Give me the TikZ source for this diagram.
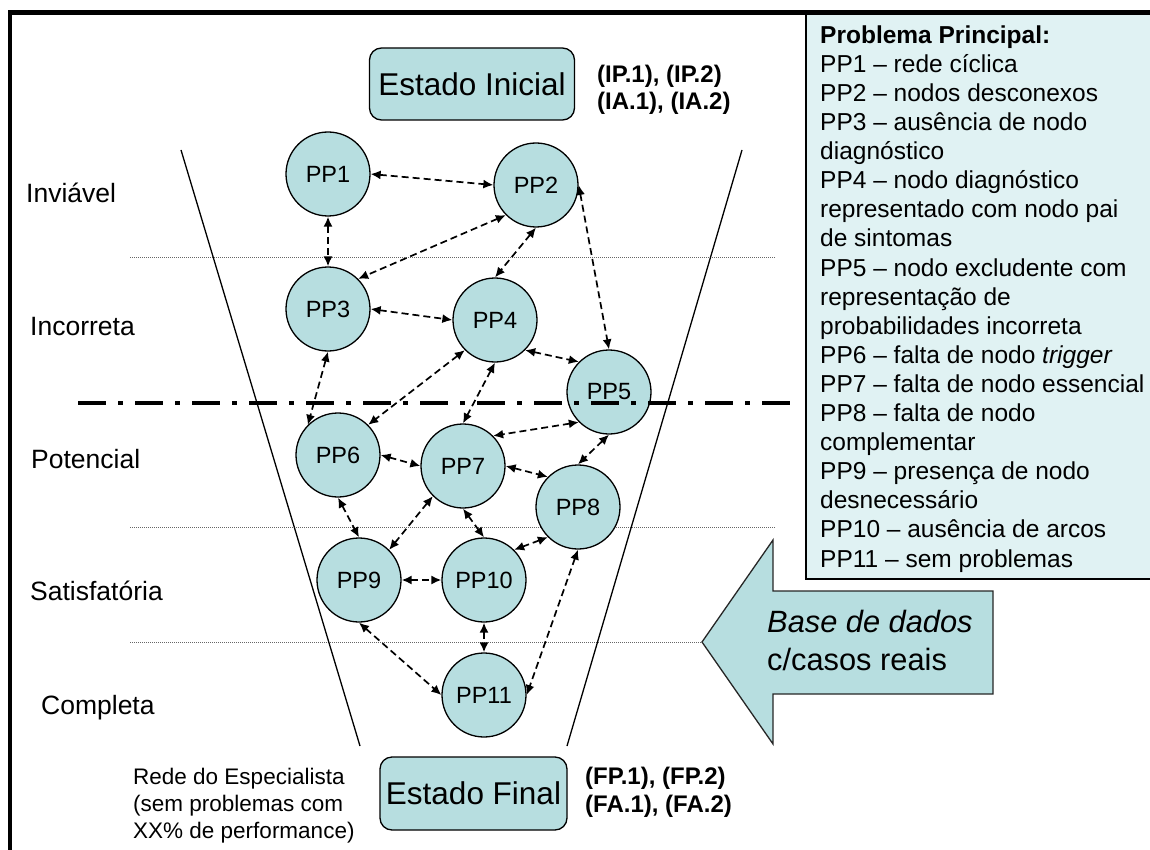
\documentclass[tikz,border=0pt]{standalone}
\usepackage{fontspec}
\setmainfont{Liberation Sans}
\usetikzlibrary{arrows.meta}
\definecolor{nodefill}{RGB}{183,222,224}
\definecolor{legendfill}{RGB}{224,242,243}
\begin{document}
\begin{tikzpicture}[x=1pt,y=-1pt,
  pp/.style={circle,draw=black,line width=1.3pt,fill=nodefill,minimum size=84pt,
    inner sep=0pt,font=\fontsize{23.5}{28}\selectfont},
  link/.style={draw=black,line width=1.7pt,dash pattern=on 7pt off 4pt,
    {Latex[length=10pt,width=9pt]}-{Latex[length=10pt,width=9pt]}},
  statebox/.style={draw=black,line width=1.3pt,fill=nodefill,rounded corners=12pt,
    inner sep=0pt,font=\fontsize{31.5}{36}\selectfont},
  level/.style={anchor=base west,inner sep=0pt,font=\fontsize{26.5}{30}\selectfont},
  guide/.style={draw=black!60,line width=0.8pt,dash pattern=on 1pt off 1pt},
  funnel/.style={draw=black,line width=1.3pt},
  % multi-line blocks are placed by the baseline of their last line
  cond/.style={anchor=base west,inner sep=0pt,align=left,
    font=\fontsize{24}{27.5}\selectfont\bfseries},
]
\useasboundingbox (0,0) rectangle (1150,850);
\clip (0,0) rectangle (1150,850);

% legend panel and outer frame
\draw[fill=legendfill,line width=1.3pt] (806,13) rectangle (1160,579);
\draw[line width=4.5pt] (10,855) -- (10,12.5) -- (1155,12.5);

% level separators
\draw[guide] (130,257) -- (775,257);
\draw[guide] (130,527) -- (775,527);
\draw[guide] (130,642) -- (775,642);

% funnel sides
\coordinate (fl1) at (181,150);
\coordinate (fl2) at (360,746);
\coordinate (fr1) at (742,150);
\coordinate (fr2) at (567,746);
\draw[funnel] (fl1) -- (fl2);
\draw[funnel] (fr1) -- (fr2);

% data-source block arrow
\draw[fill=nodefill,draw=black!85,line width=1.3pt]
  (702,642) -- (773,540) -- (773,591) -- (993,591) -- (993,694)
  -- (773,694) -- (773,744) -- cycle;
\node[anchor=base west,inner sep=0pt,align=left,font=\fontsize{30.8}{38}\selectfont]
  (db) at (767,670) {\textit{Base de dados}\\c/casos reais};

% states
\node[statebox,minimum width=205pt,minimum height=72pt] (ini) at (472,84) {Estado Inicial};
\node[statebox,minimum width=187pt,minimum height=73pt] (fin) at (473.5,793.5) {Estado Final};

% problem nodes
\node[pp] (p1)  at (328,174) {PP1};
\node[pp] (p2)  at (536,185) {PP2};
\node[pp] (p3)  at (328,309) {PP3};
\node[pp] (p4)  at (495,320) {PP4};
\node[pp] (p5)  at (609,392) {PP5};
\node[pp] (p6)  at (338,455) {PP6};
\node[pp] (p7)  at (463,466) {PP7};
\node[pp] (p8)  at (578,507) {PP8};
\node[pp] (p9)  at (359,580) {PP9};
\node[pp] (p10) at (484,580) {PP10};
\node[pp] (p11) at (484,695) {PP11};

% transitions
\draw[link] (p1.east) -- (p2.west);
\draw[link] (p1.south) -- (p3.north);
\draw[link] (p2.south west) -- (p3.north east);
\draw[link] (p2.south) -- (p4.north);
\draw[link] (p2.east) -- (p5.north);
\draw[link] (p3.east) -- (p4.west);
\draw[link] (p3.south) -- (p6.north west);
\draw[link] (p4.south east) -- (p5.north west);
\draw[link] (p4.south west) -- (p6.north east);
\draw[link] (p4.south) -- (p7.north);
\draw[link] (p5.south west) -- (p7.north east);
\draw[link] (p5.south) -- (p8.north);
\draw[link] (p6.east) -- (p7.west);
\draw[link] (p6.south) -- (p9.north);
\draw[link] (p7.east) -- (p8.north west);
\draw[link] (p7.south west) -- (p9.north east);
\draw[link] (p7.south) -- (p10.north);
\draw[link] (p8.south west) -- (p10.north east);
\draw[link] (p8.south) -- (p11.east);
\draw[link] (p9.east) -- (p10.west);
\draw[link] (p9.south) -- (p11.west);
\draw[link] (p10.south) -- (p11.north);

% acceptability threshold
\draw[line width=4pt,dash pattern=on 28pt off 12pt on 5pt off 12pt] (78,403) -- (795,403);

% level names
\node[level] (lv1) at (26,203) {Inviável};
\node[level] (lv2) at (30,335) {Incorreta};
\node[level] (lv3) at (31,468) {Potencial};
\node[level] (lv4) at (30,600) {Satisfatória};
\node[level] (lv5) at (41,714) {Completa};

% state conditions
\node[cond] (cini) at (597,110) {(IP.1), (IP.2)\\(IA.1), (IA.2)};
\node[cond] (cfin) at (585,812) {(FP.1), (FP.2)\\(FA.1), (FA.2)};
\node[anchor=base west,inner sep=0pt,align=left,font=\fontsize{22.5}{27}\selectfont]
  (expert) at (133,838) {Rede do Especialista\\(sem problemas com\\XX\% de performance)};

% legend text
\node[anchor=base west,inner sep=0pt,align=left,font=\fontsize{24.5}{29.1}\selectfont]
  (legend) at (820,567) {\textbf{Problema Principal:}\\
PP1 – rede cíclica\\
PP2 – nodos desconexos\\
PP3 – ausência de nodo\\
diagnóstico\\
PP4 – nodo diagnóstico\\
representado com nodo pai\\
de sintomas\\
PP5 – nodo excludente com\\
representação de\\
probabilidades incorreta\\
PP6 – falta de nodo \textit{trigger}\\
PP7 – falta de nodo essencial\\
PP8 – falta de nodo\\
complementar\\
PP9 – presença de nodo\\
desnecessário\\
PP10 – ausência de arcos\\
PP11 – sem problemas};
\end{tikzpicture}
\end{document}
